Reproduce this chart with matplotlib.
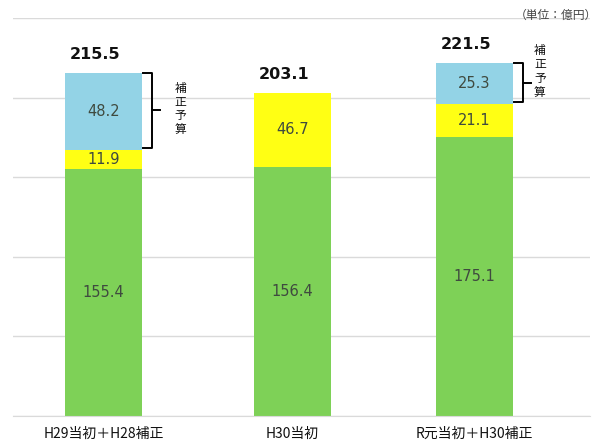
import matplotlib
matplotlib.use("Agg")
import matplotlib.pyplot as plt
import numpy as np

plt.rcParams['font.family'] = ['Noto Sans CJK JP', 'DejaVu Sans']

categories = ["H29当初＋H28補正", "H30当初", "R元当初＋H30補正"]
green_vals = [155.4, 156.4, 175.1]
yellow_vals = [11.9, 46.7, 21.1]
blue_vals = [48.2, 0.0, 25.3]
totals = [215.5, 203.1, 221.5]
unit_label = "（単位：億円）"
bracket_label = "補\n正\n予\n算"

c_green = "#7ed157"
c_yellow = "#ffff14"
c_blue = "#93d3e6"

fig = plt.figure(figsize=(5.97, 4.45), dpi=100)
ax = fig.add_axes([0.0218, 0.065, 0.966, 0.8946])

x = np.array([0.0, 1.015, 1.995])
w = 0.414

ax.bar(x, green_vals, width=w, color=c_green, zorder=2)
ax.bar(x, yellow_vals, width=w, bottom=green_vals, color=c_yellow, zorder=2)
bottom_b = np.array(green_vals) + np.array(yellow_vals)
ax.bar(x, blue_vals, width=w, bottom=bottom_b, color=c_blue, zorder=2)

lab_color = "#3f4a3f"
lab_kw = dict(ha="center", va="center", fontsize=10.5, color=lab_color,
              family="DejaVu Sans", zorder=3)
for i in range(3):
    ax.text(x[i], green_vals[i] / 2, f"{green_vals[i]:.1f}", **lab_kw)
    ax.text(x[i], green_vals[i] + yellow_vals[i] / 2, f"{yellow_vals[i]:.1f}", **lab_kw)
    if blue_vals[i] > 0:
        ax.text(x[i], bottom_b[i] + blue_vals[i] / 2, f"{blue_vals[i]:.1f}", **lab_kw)
    ax.annotate(f"{totals[i]:.1f}", (x[i] - 0.045, totals[i]), xytext=(0, 8),
                textcoords="offset points", ha="center", va="bottom", fontsize=11.5,
                fontweight="bold", color="#111111", family="DejaVu Sans")

# brackets for supplementary budget
for i in [0, 2]:
    if blue_vals[i] <= 0:
        continue
    y0 = bottom_b[i] + 1
    y1 = totals[i]
    xr = x[i] + w / 2 + 0.005
    xv = xr + 0.05
    ax.plot([xr, xv, xv, xr], [y1, y1, y0, y0], color="black", lw=1.4,
            solid_joinstyle="round", zorder=3)
    ym = (y0 + y1) / 2
    ax.plot([xv, xv + 0.04], [ym, ym], color="black", lw=1.4, zorder=3)
    if i == 0:
        ax.text(xv + 0.15, ym + 1, bracket_label, ha="center", va="center",
                fontsize=8.5, linespacing=1.08, color="#111111")
    else:
        ax.text(xv + 0.09, ym + 7, bracket_label, ha="center", va="center",
                fontsize=8.5, linespacing=1.08, color="#111111")

ax.set_ylim(0, 250)
ax.set_xlim(-0.487, 2.615)
ax.set_yticks([0, 50, 100, 150, 200, 250])
ax.yaxis.grid(True, color="#dadada", lw=1)
ax.set_axisbelow(True)
ax.tick_params(axis="y", left=False, labelleft=False)
ax.tick_params(axis="x", bottom=False, length=0, pad=8)
ax.set_xticks(x)
ax.set_xticklabels(categories, fontsize=10, color="#111111")
for s in ["top", "right", "left"]:
    ax.spines[s].set_visible(False)
ax.spines["bottom"].set_color("#dadada")

fig.text(1.0, 0.966, unit_label, ha="right", va="center", fontsize=8.5, color="#444444")

fig.savefig("out.png", dpi=100)
